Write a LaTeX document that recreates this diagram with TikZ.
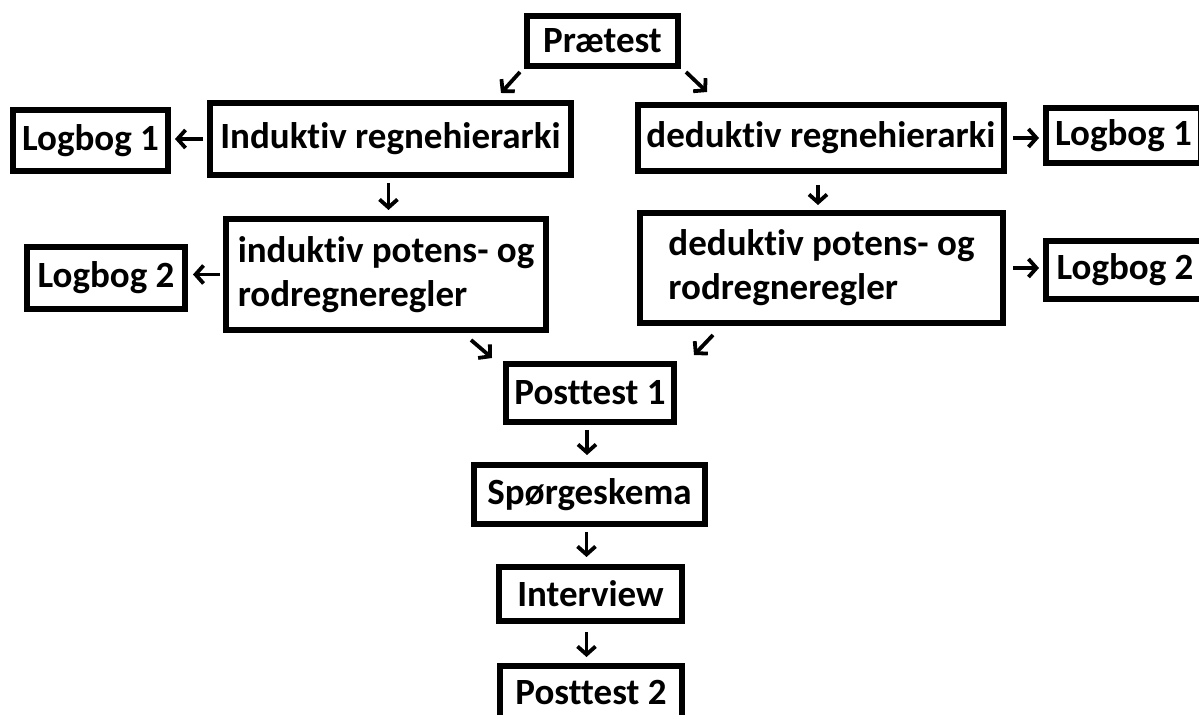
\documentclass[tikz,border=0pt]{standalone}
\usepackage{fontspec}
\setmainfont{Carlito}[Ligatures=NoCommon]
\usetikzlibrary{arrows.meta}

\begin{document}
\begin{tikzpicture}[x=0.5pt,y=-0.5pt,
        box/.style={draw,line width=3.2pt,inner sep=0pt,font=\fontsize{18.5}{22}\selectfont\bfseries},
        arr/.style={line width=1.9pt,-{Straight Barb[length=4pt,width=9pt]}}]
        \useasboundingbox (0,0) rectangle (1199,715);
        \clip (0,0) rectangle (1199,715);
        % boxes
        \node[box,minimum width=75.3pt,minimum height=24.8pt] (pre) at (602.5,41) {Prætest};
        \node[box,minimum width=180.3pt,minimum height=35.8pt] (indreg) at (390.5,139) {Induktiv regnehierarki};
        \node[box,minimum width=77.3pt,minimum height=30.3pt] (logIl) at (90.5,140.5) {Logbog 1};
        \node[box,minimum width=159.8pt,minimum height=55.3pt,align=left] (indpot) at (386,274.5) {induktiv potens- og\\rodregneregler};
        \node[box,minimum width=78.8pt,minimum height=30.8pt] (logIIl) at (106,278) {Logbog 2};
        \node[box,minimum width=182.8pt,minimum height=32.8pt] (dedreg) at (821,138) {deduktiv regnehierarki};
        \node[box,minimum width=77.3pt,minimum height=27.3pt] (logIr) at (1123.5,135.5) {Logbog 1};
        \node[box,minimum width=181.3pt,minimum height=54.8pt,align=left] (dedpot) at (821.5,268) {deduktiv potens- og\\rodregneregler};
        \node[box,minimum width=78.8pt,minimum height=28.8pt] (logIIr) at (1125,270) {Logbog 2};
        \node[box,minimum width=83.8pt,minimum height=28.8pt] (postI) at (590,393) {Posttest 1};
        \node[box,minimum width=115.3pt,minimum height=29.3pt] (spg) at (589.5,494.5) {Spørgeskema};
        \node[box,minimum width=91.3pt,minimum height=26.8pt] (intv) at (590.5,594) {Interview};
        \node[box,minimum width=90.8pt,minimum height=26.8pt] (postII) at (591,693) {Posttest 2};
        % arrows
        \draw[arr] ([shift={(-4,3)}]pre.south west) -- ([shift={(-23,24)}]pre.south west);
        \draw[arr] ([shift={(5,3)}]pre.south east) -- ([shift={(26,23)}]pre.south east);
        \draw[arr,shorten <=2pt,shorten >=2pt] (indreg.west) -- (indreg.west -| logIl.east);
        \draw[arr,shorten <=2.5pt,shorten >=3pt] ([xshift=-1pt]indreg.south) -- ([xshift=-1pt]indreg.south |- indpot.north);
        \draw[arr,shorten <=1.5pt,shorten >=2.5pt] (indpot.west) -- (indpot.west -| logIIl.east);
        \draw[arr,shorten <=3pt,shorten >=2pt] (dedreg.east) -- (dedreg.east -| logIr.west);
        \draw[arr,shorten <=5.5pt,shorten >=2.5pt] ([xshift=-1.5pt]dedreg.south) -- ([xshift=-1.5pt]dedreg.south |- dedpot.north);
        \draw[arr,shorten <=3.5pt,shorten >=2pt] (dedpot.east) -- (dedpot.east -| logIIr.west);
        \draw[arr] ([shift={(-32,-21)}]postI.north west) -- ([shift={(-11,-3)}]postI.north west);
        \draw[arr] ([shift={(36,-26)}]postI.north east) -- ([shift={(17,-6)}]postI.north east);
        \draw[arr,shorten <=2.5pt,shorten >=3.5pt] ([xshift=-1.5pt]postI.south) -- ([xshift=-1.5pt]postI.south |- spg.north);
        \draw[arr,shorten <=2.5pt,shorten >=3.5pt] ([xshift=-1.5pt]spg.south) -- ([xshift=-1.5pt]spg.south |- intv.north);
        \draw[arr,shorten <=4pt,shorten >=3pt] ([xshift=-2pt]intv.south) -- ([xshift=-2pt]intv.south |- postII.north);
\end{tikzpicture}
\end{document}
